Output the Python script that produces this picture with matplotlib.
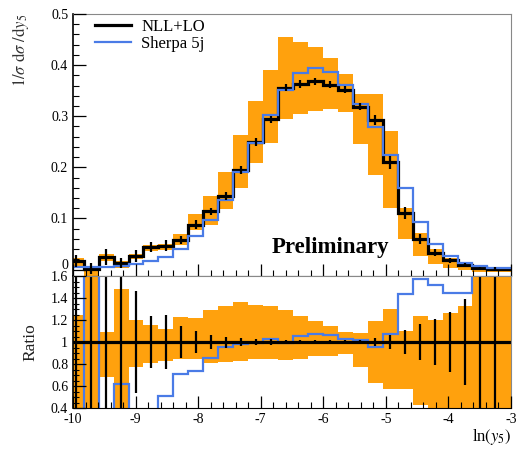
import numpy as np
import matplotlib
matplotlib.use("Agg")
import matplotlib.pyplot as plt
import matplotlib.transforms as mtransforms
from matplotlib.ticker import MultipleLocator, FuncFormatter

plt.rcParams['font.family'] = ['Liberation Serif', 'DejaVu Serif']
plt.rcParams['mathtext.fontset'] = 'stix'
plt.rcParams['axes.unicode_minus'] = False

# bin edges in ln(y5)
edges = -10.069 + 0.239 * np.arange(31)

# NLL+LO central values (1/sigma dsigma/dy5)
nll = [0.017, 0.002, 0.025, 0.013, 0.026, 0.044, 0.047, 0.058, 0.088, 0.114,
       0.144, 0.195, 0.250, 0.294, 0.356, 0.363, 0.368, 0.362, 0.352, 0.319,
       0.293, 0.210, 0.111, 0.059, 0.033, 0.018, 0.009, 0.003, 0.0015, 0.001]
# statistical errors of NLL+LO
nll_err = [0.011, 0.010, 0.016, 0.009, 0.012, 0.0105, 0.0115, 0.0084, 0.0088, 0.0074,
           0.0072, 0.0078, 0.0075, 0.0074, 0.007, 0.007, 0.007, 0.007, 0.007, 0.007,
           0.010, 0.0126, 0.012, 0.0097, 0.0069, 0.0049, 0.0035, 0.003, 0.003, 0.0]
# scale-variation band, top panel
band_lo = [0.006, -0.012, 0.016, 0.003, 0.020, 0.037, 0.039, 0.049, 0.078, 0.088,
           0.119, 0.160, 0.209, 0.247, 0.295, 0.305, 0.310, 0.314, 0.309, 0.245,
           0.185, 0.120, 0.060, 0.026, 0.010, 0.003, 0.000, -0.005, -0.005, -0.005]
band_hi = [0.023, 0.003, 0.030, 0.016, 0.031, 0.049, 0.051, 0.069, 0.108, 0.144,
           0.191, 0.263, 0.330, 0.391, 0.456, 0.445, 0.436, 0.414, 0.382, 0.344,
           0.344, 0.271, 0.121, 0.072, 0.041, 0.023, 0.010, 0.004, 0.003, 0.003]
# scale-variation band, ratio panel
rband_lo = [0.0, 0.0, 0.68, 0.0, 0.77, 0.81, 0.83, 0.85, 0.85, 0.81,
            0.82, 0.83, 0.845, 0.85, 0.84, 0.85, 0.87, 0.87, 0.89, 0.77,
            0.63, 0.57, 0.57, 0.43, 0.0, 0.0, 0.0, 0.0, 0.0, 0.0]
rband_hi = [1.25, 2.0, 1.09, 1.48, 1.20, 1.156, 1.12, 1.23, 1.22, 1.29,
            1.33, 1.36, 1.34, 1.33, 1.29, 1.24, 1.19, 1.15, 1.095, 1.08,
            1.19, 1.30, 1.10, 1.24, 1.20, 1.26, 1.33, 2.0, 2.0, 2.0]
# Sherpa 5j
sherpa = [0.005, 0.005, 0.005, 0.008, 0.010, 0.016, 0.024, 0.041, 0.065, 0.097,
          0.137, 0.191, 0.247, 0.302, 0.352, 0.384, 0.395, 0.386, 0.361, 0.324,
          0.279, 0.225, 0.159, 0.093, 0.050, 0.026, 0.013, 0.007, 0.003, 0.003]

nll = np.array(nll)
nll_err = np.array(nll_err)
sherpa = np.array(sherpa)
centers = 0.5 * (edges[:-1] + edges[1:])
widths = np.diff(edges)

orange = '#ff9c00'
blue = '#4a7be6'

fig = plt.figure(figsize=(5.17, 4.49), dpi=100)
ax1 = fig.add_axes([0.1412, 0.3853, 0.8472, 0.5835])
ax2 = fig.add_axes([0.1412, 0.0913, 0.8472, 0.2940])

# top panel
ax1.bar(edges[:-1], np.array(band_hi) - np.array(band_lo), width=widths,
        bottom=band_lo, align='edge', color=orange, linewidth=0, alpha=0.95)
ax1.stairs(nll, edges, color='black', linewidth=2.3, label='NLL+LO')
ax1.vlines(centers, nll - nll_err, nll + nll_err, color='black', linewidth=1.6)
ax1.stairs(sherpa, edges, color=blue, linewidth=1.6, label='Sherpa 5j')
ax1.set_xlim(-10, -3)
ax1.set_ylim(-0.0125, 0.5)
ax1.text(0.587, 0.108, 'Preliminary', transform=ax1.transAxes, ha='center',
         va='center', fontsize=16.5, fontweight='bold')
ax1.legend(loc='upper left', bbox_to_anchor=(0.015, 1.04), frameon=False,
           fontsize=12, handlelength=2.2, handletextpad=0.6, labelspacing=0.1)
ax1.set_ylabel(r'$1/\sigma\ \mathrm{d}\sigma\ /\mathrm{d}y_5$', fontsize=12,
               loc='top', color='#333333')
ax1.yaxis.set_label_coords(-0.095, 1.0)
ax1.yaxis.set_major_locator(MultipleLocator(0.1))
ax1.yaxis.set_minor_locator(MultipleLocator(0.02))

# ratio panel
ax2.bar(edges[:-1], np.array(rband_hi) - np.array(rband_lo), width=widths,
        bottom=rband_lo, align='edge', color=orange, linewidth=0, alpha=0.95)
ax2.axhline(1.0, color='black', linewidth=2.3)
ax2.vlines(centers, 1 - nll_err / nll, 1 + nll_err / nll, color='black', linewidth=1.6)
ax2.stairs(sherpa / nll, edges, color=blue, linewidth=1.6)
ax2.set_xlim(-10, -3)
ax2.set_ylim(0.4, 1.6)
ax2.set_ylabel('Ratio', fontsize=12.5, color='#222222')
ax2.yaxis.set_label_coords(-0.08, 0.5)
ax2.set_xlabel(r'ln$(y_5)$', fontsize=12, loc='right', labelpad=0.5)
ax2.yaxis.set_major_locator(MultipleLocator(0.2))
ax2.yaxis.set_minor_locator(MultipleLocator(0.05))

fmt = FuncFormatter(lambda v, p: '%g' % round(v, 3))
for ax in (ax1, ax2):
    ax.xaxis.set_major_locator(MultipleLocator(1))
    ax.xaxis.set_minor_locator(MultipleLocator(0.2))
    ax.xaxis.set_major_formatter(fmt)
    ax.yaxis.set_major_formatter(fmt)
    ax.tick_params(which='major', direction='in', length=9, width=0.9,
                   labelsize=10, top=False, right=False)
    ax.tick_params(which='minor', direction='in', length=4.5, width=0.8,
                   top=False, right=False)
    for s in ('top', 'right'):
        ax.spines[s].set_color('#888888')
    ax.spines['left'].set_linewidth(1.2)
    ax.set_axisbelow(False)
ax1.tick_params(axis='x', labelbottom=False)

# lift the "0" label of the top panel a little, as in the reference
fig.canvas.draw()
for lab in ax1.get_yticklabels():
    if lab.get_text() == '0':
        lab.set_transform(lab.get_transform() +
                          mtransforms.ScaledTranslation(0, 4 / 72, fig.dpi_scale_trans))

fig.savefig('out.png', dpi=100)
